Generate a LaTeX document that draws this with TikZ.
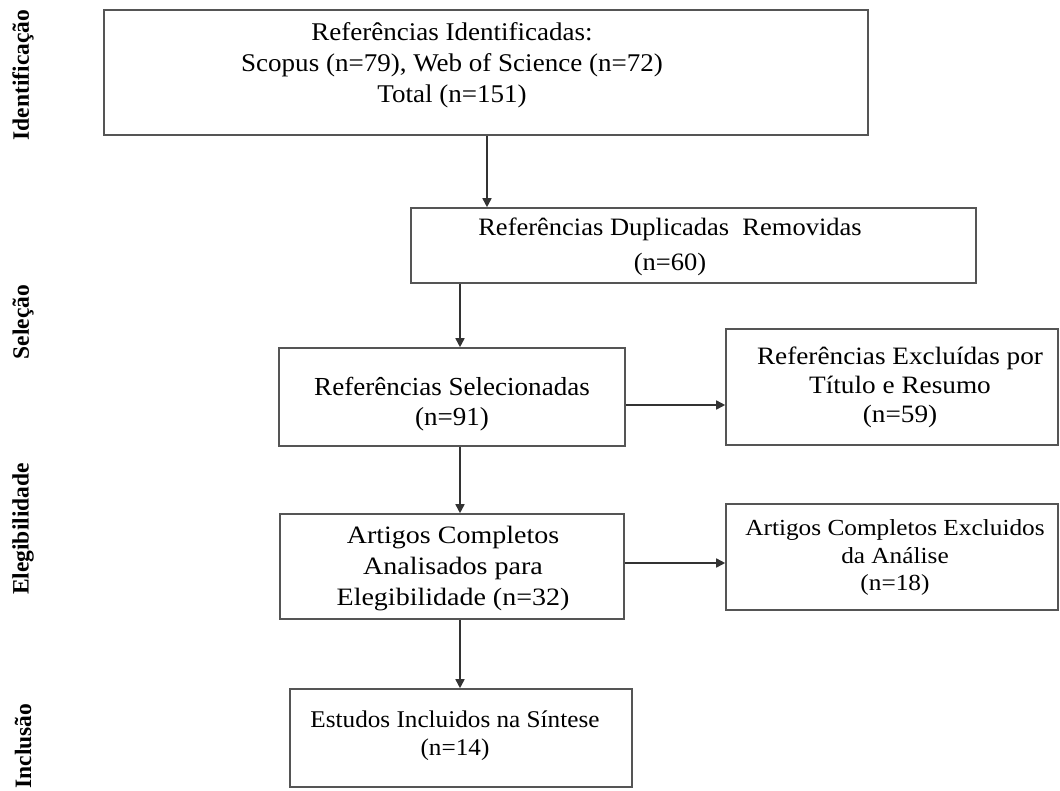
\documentclass[tikz,border=0pt]{standalone}
\usepackage{fontspec}
\setmainfont{Liberation Serif}
\newfontfamily\fA[FakeStretch=1.06]{Liberation Serif}
\newfontfamily\fB[FakeStretch=1.06]{Liberation Serif}
\newfontfamily\fC[FakeStretch=1.04]{Liberation Serif}
\newfontfamily\fD[FakeStretch=1.09]{Liberation Serif}
\newfontfamily\fE[FakeStretch=1.12]{Liberation Serif}
\newfontfamily\fF[FakeStretch=1.1]{Liberation Serif}
\newfontfamily\fG[FakeStretch=1.05]{Liberation Serif}
\usetikzlibrary{arrows.meta}
\definecolor{boxline}{HTML}{555555}
\definecolor{arrline}{HTML}{333333}
\tikzset{
  box/.style={draw=boxline, line width=1.6pt, fill=white, inner sep=0pt},
  txt/.style={align=center, inner sep=0pt, text=black},
  lab/.style={rotate=90, inner sep=0pt, font={\bfseries\fontsize{23.5}{27}\selectfont}},
  arr/.style={draw=arrline, line width=1.6pt, -{Triangle[length=9pt,width=9pt]}}
}
\begin{document}
\begin{tikzpicture}[x=1pt,y=1pt]
\useasboundingbox (0,0) rectangle (1060,-790);
% stage labels
\node[lab] (l1) at (23,-75) {Identificação};
\node[lab] (l2) at (23,-322) {Seleção};
\node[lab] (l3) at (23,-529) {Elegibilidade};
\node[lab] (l4) at (23,-746) {Inclusão};
% boxes
\node[box, minimum width=764pt, minimum height=125pt] (b1) at (486,-72.5) {};
\node[box, minimum width=565pt, minimum height=75pt] (b2) at (693.5,-245.5) {};
\node[box, minimum width=346pt, minimum height=98pt] (b3) at (452,-397) {};
\node[box, minimum width=332pt, minimum height=116pt] (b4) at (892,-387) {};
\node[box, minimum width=344pt, minimum height=105pt] (b5) at (452,-566.5) {};
\node[box, minimum width=332pt, minimum height=106pt] (b6) at (892,-557) {};
\node[box, minimum width=342pt, minimum height=98pt] (b7) at (461,-738) {};
% texts
\node[txt, font={\fA\fontsize{25.5}{31}\selectfont}] (t1) at (452,-65) {Referências Identificadas:\\Scopus (n=79), Web of Science (n=72)\\Total (n=151)};
\node[txt, font={\fB\fontsize{25}{35}\selectfont}] (t2) at (670,-247) {Referências Duplicadas\ \ Removidas\\(n=60)};
\node[txt, font={\fC\fontsize{26}{30}\selectfont}] (t3) at (452,-404) {Referências Selecionadas\\(n=91)};
\node[txt, font={\fD\fontsize{25}{29}\selectfont}] (t4) at (900,-387) {Referências Excluídas por\\Título e Resumo\\(n=59)};
\node[txt, font={\fE\fontsize{25}{31}\selectfont}] (t5) at (453,-569) {Artigos Completos\\Analisados para\\Elegibilidade (n=32)};
\node[txt, font={\fF\fontsize{23}{27.5}\selectfont}] (t6) at (895,-557.5) {Artigos Completos Excluidos\\da Análise\\(n=18)};
\node[txt, font={\fG\fontsize{24}{28}\selectfont}] (t7) at (455,-735.5) {Estudos Incluidos na Síntese\\(n=14)};
% connector coordinates
\coordinate (c1) at (487,0);
\coordinate (c2) at (460,0);
\coordinate (h1) at (0,-405);
\coordinate (h2) at (0,-563);
% arrows
\draw[arr] (c1 |- b1.south) -- (c1 |- b2.north);
\draw[arr] (c2 |- b2.south) -- (c2 |- b3.north);
\draw[arr] (c2 |- b3.south) -- (c2 |- b5.north);
\draw[arr] (c2 |- b5.south) -- (c2 |- b7.north);
\draw[arr] (b3.east |- h1) -- (b4.west |- h1);
\draw[arr] (b5.east |- h2) -- (b6.west |- h2);
\end{tikzpicture}
\end{document}
